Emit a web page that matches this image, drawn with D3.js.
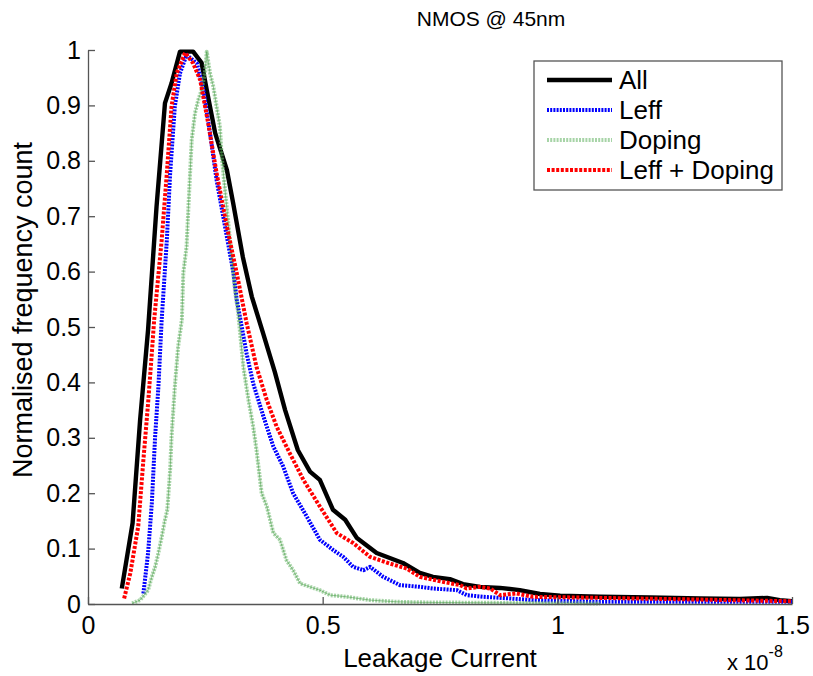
<!DOCTYPE html>
<html><head><meta charset="utf-8">
<script src="https://cdn.jsdelivr.net/npm/d3@7"></script>
<style>body{margin:0;background:#fff;}svg{display:block;font-family:"Liberation Sans",Arial,sans-serif;}</style>
</head><body><svg id="c" width="813" height="676"></svg>
<script>
// ---- data (x in units of 1e-8 A, y = normalised count) ----
const allX = [0.072,0.095,0.111,0.128,0.146,0.164,0.178,0.196,0.224,0.242,0.253,0.271,0.296,0.309,0.330,0.349,0.373,0.398,0.420,0.447,0.473,0.494,0.522,0.548,0.573,0.615,0.671,0.707,0.735,0.771,0.799,0.835,0.878,0.920,0.963,1.006,1.091,1.197,1.304,1.389,1.447,1.474,1.5];
const allY = [0.028,0.146,0.332,0.495,0.717,0.904,0.940,0.997,0.997,0.977,0.928,0.850,0.783,0.725,0.626,0.555,0.489,0.419,0.350,0.278,0.239,0.224,0.170,0.152,0.119,0.092,0.074,0.056,0.049,0.045,0.036,0.031,0.029,0.025,0.018,0.015,0.013,0.012,0.010,0.009,0.011,0.007,0.005];

const leffX = [0.118,0.128,0.136,0.143,0.150,0.157,0.168,0.175,0.185,0.196,0.210,0.232,0.246,0.260,0.274,0.292,0.310,0.317,0.338,0.352,0.374,0.395,0.416,0.437,0.466,0.494,0.523,0.544,0.565,0.587,0.601,0.629,0.665,0.707,0.735,0.786,0.807,0.842,0.899,0.948,1.091,1.5];
const leffY = [0.019,0.092,0.182,0.302,0.392,0.513,0.657,0.777,0.898,0.958,0.991,0.976,0.928,0.850,0.765,0.681,0.597,0.549,0.452,0.398,0.338,0.284,0.248,0.200,0.158,0.116,0.097,0.085,0.067,0.061,0.067,0.049,0.034,0.031,0.028,0.025,0.016,0.013,0.010,0.007,0.004,0.004];

const dopX = [0.094,0.111,0.128,0.136,0.143,0.150,0.157,0.164,0.169,0.175,0.178,0.185,0.192,0.196,0.200,0.203,0.210,0.214,0.221,0.228,0.235,0.242,0.249,0.253,0.260,0.267,0.274,0.281,0.285,0.292,0.299,0.306,0.313,0.320,0.331,0.342,0.352,0.359,0.370,0.381,0.395,0.409,0.423,0.437,0.452,0.473,0.494,0.516,0.551,0.601,0.658,0.707,0.878,1.091];
const dopY = [0.001,0.007,0.025,0.049,0.067,0.092,0.121,0.152,0.170,0.242,0.302,0.392,0.464,0.489,0.513,0.597,0.645,0.717,0.838,0.886,0.910,0.928,0.958,0.997,0.958,0.934,0.898,0.862,0.807,0.747,0.687,0.627,0.567,0.525,0.428,0.368,0.320,0.278,0.200,0.176,0.128,0.116,0.079,0.061,0.037,0.031,0.025,0.016,0.013,0.007,0.004,0.003,0.002,0.001];

const bothX = [0.077,0.090,0.107,0.118,0.128,0.136,0.141,0.157,0.168,0.178,0.189,0.207,0.224,0.239,0.256,0.274,0.296,0.317,0.338,0.359,0.381,0.402,0.430,0.459,0.494,0.530,0.565,0.601,0.643,0.679,0.707,0.756,0.793,0.807,0.835,0.857,0.878,0.913,0.948,1.091,1.304,1.5];
const bothY = [0.010,0.055,0.140,0.260,0.362,0.453,0.513,0.657,0.778,0.898,0.958,0.995,0.976,0.946,0.868,0.778,0.681,0.597,0.507,0.428,0.368,0.320,0.272,0.224,0.176,0.128,0.110,0.085,0.073,0.064,0.049,0.040,0.034,0.028,0.031,0.028,0.016,0.019,0.013,0.011,0.008,0.005];

const xTicks = [0, 0.5, 1, 1.5];
const xTickLabels = ["0", "0.5", "1", "1.5"];
const yTicks = [0,0.1,0.2,0.3,0.4,0.5,0.6,0.7,0.8,0.9,1];
const yTickLabels = ["0","0.1","0.2","0.3","0.4","0.5","0.6","0.7","0.8","0.9","1"];
const seriesNames = ["All", "Leff", "Doping", "Leff + Doping"];

// ---- layout ----
const L = 88, R = 792, T = 50, B = 604;
const svg = d3.select("#c");
const x = d3.scaleLinear().domain([0, 1.5]).range([L, R]);
const y = d3.scaleLinear().domain([0, 1]).range([B, T]);
const axisCol = "#555";

const zip = (xs, ys) => xs.map((v, i) => [v, ys[i]]);
const line = d3.line().x(d => x(d[0])).y(d => y(d[1]));

const styles = [
  {data: zip(allX, allY), stroke: "#000", width: 4.4, dash: null, op: 1},
  {data: zip(leffX, leffY), stroke: "#0000ff", width: 4, dash: "2,1.2", op: 1},
  {data: zip(dopX, dopY), stroke: "#6cb86c", width: 4, dash: "2,1.2", op: 0.6},
  {data: zip(bothX, bothY), stroke: "#ff0000", width: 4, dash: "3,1.6", op: 1}
];

const g = svg.append("g");
styles.forEach((s, i) => {
  g.append("path").datum(s.data).attr("d", line)
    .attr("fill", "none").attr("stroke", s.stroke).attr("stroke-width", s.width)
    .attr("stroke-dasharray", s.dash).attr("stroke-opacity", s.op)
    .attr("stroke-linejoin", "round");
  if (i === 2) {
    g.append("path").datum(s.data).attr("d", line)
      .attr("fill", "none").attr("stroke", "#2e8b2e").attr("stroke-width", 0.9)
      .attr("stroke-opacity", 0.5);
  }
});

// ---- axes ----
const xAxis = d3.axisBottom(x).tickValues(xTicks).tickFormat((d, i) => xTickLabels[i]).tickSizeInner(-7).tickSizeOuter(0).tickPadding(12);
const yAxis = d3.axisLeft(y).tickValues(yTicks).tickFormat((d, i) => yTickLabels[i]).tickSizeInner(-7).tickSizeOuter(0).tickPadding(7);

const gx = svg.append("g").attr("transform", `translate(0,${B})`).call(xAxis);
const gy = svg.append("g").attr("transform", `translate(${L},0)`).call(yAxis);
[gx, gy].forEach(a => {
  a.select(".domain").attr("stroke", axisCol).attr("stroke-width", 1.3);
  a.selectAll(".tick line").attr("stroke", axisCol).attr("stroke-width", 1.3);
  a.selectAll(".tick text").attr("fill", "#000").style("font-size", "25px").style("font-family", '"Liberation Sans",Arial,sans-serif');
});
gx.selectAll(".tick text").attr("dy", "0.71em");

// ---- titles ----
svg.append("text").attr("x", 491).attr("y", 26).attr("text-anchor", "middle")
  .style("font-size", "21px").text("NMOS @ 45nm");
svg.append("text").attr("x", 440).attr("y", 667).attr("text-anchor", "middle")
  .style("font-size", "26px").text("Leakage Current");
svg.append("text").attr("transform", "translate(32,310) rotate(-90)").attr("text-anchor", "middle")
  .style("font-size", "27px").text("Normalised frequency count");
const sci = svg.append("text").attr("x", 727).attr("y", 670).style("font-size", "22px");
sci.append("tspan").text("x 10");
sci.append("tspan").attr("dy", -13).style("font-size", "16px").text("-8");

// ---- legend ----
const lg = svg.append("g");
lg.append("rect").attr("x", 534).attr("y", 61).attr("width", 248).attr("height", 129)
  .attr("fill", "#fff").attr("stroke", "#555").attr("stroke-width", 1.3);
styles.forEach((s, i) => {
  const yy = 80 + i * 30;
  lg.append("line").attr("x1", 547).attr("x2", 612).attr("y1", yy).attr("y2", yy)
    .attr("stroke", s.stroke).attr("stroke-width", s.width).attr("stroke-dasharray", s.dash).attr("stroke-opacity", s.op);
  lg.append("text").attr("x", 619).attr("y", yy).attr("dy", "0.36em").style("font-size", "26px").text(seriesNames[i]);
});
</script></body></html>
